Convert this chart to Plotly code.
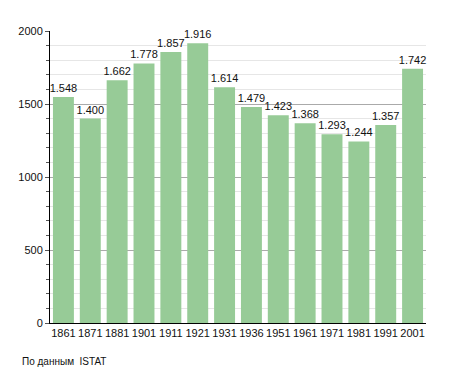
import plotly.graph_objects as go

years = ["1861", "1871", "1881", "1901", "1911", "1921", "1931", "1936",
         "1951", "1961", "1971", "1981", "1991", "2001"]
population = [1548, 1400, 1662, 1778, 1857, 1916, 1614, 1479,
              1423, 1368, 1293, 1244, 1357, 1742]
y_ticks = [0, 500, 1000, 1500, 2000]
source_note = "По данным  ISTAT"

fig = go.Figure(go.Bar(
    x=years, y=population,
    marker=dict(color="#97cb97", line=dict(width=0)),
    texttemplate="%{y:,}", textposition="outside",
    textfont=dict(color="#111", size=11),
    constraintext="none",
    cliponaxis=False,
    hoverinfo="x+y",
))

fig.update_layout(
    width=455, height=373,
    margin=dict(l=42, r=37, t=23, b=58, autoexpand=False),
    plot_bgcolor="white", paper_bgcolor="white",
    separators=",.",
    font=dict(family="Liberation Sans, Arial, sans-serif", size=11, color="#111"),
    bargap=0.22,
    showlegend=False,
    xaxis=dict(showline=True, linecolor="black", linewidth=1, ticks="",
               tickfont=dict(size=11), showgrid=False, automargin=False),
    yaxis=dict(range=[0, 2000], tickvals=y_ticks, showline=True, linecolor="black",
               linewidth=1, ticks="outside", ticklen=4, tickcolor="#555",
               showgrid=True, gridcolor="#aaaaaa", gridwidth=1, zeroline=False,
               tickfont=dict(size=11), automargin=False,
               minor=dict(dtick=100, showgrid=True, gridcolor="#e6e6e6",
                          ticks="outside", ticklen=3, tickcolor="#555")),
    annotations=[dict(text=source_note, xref="paper", yref="paper",
                      x=-30/376, y=-38/292, xanchor="left", yanchor="middle",
                      showarrow=False, font=dict(size=10, color="#111"))],
)

fig.write_html("out.html")
